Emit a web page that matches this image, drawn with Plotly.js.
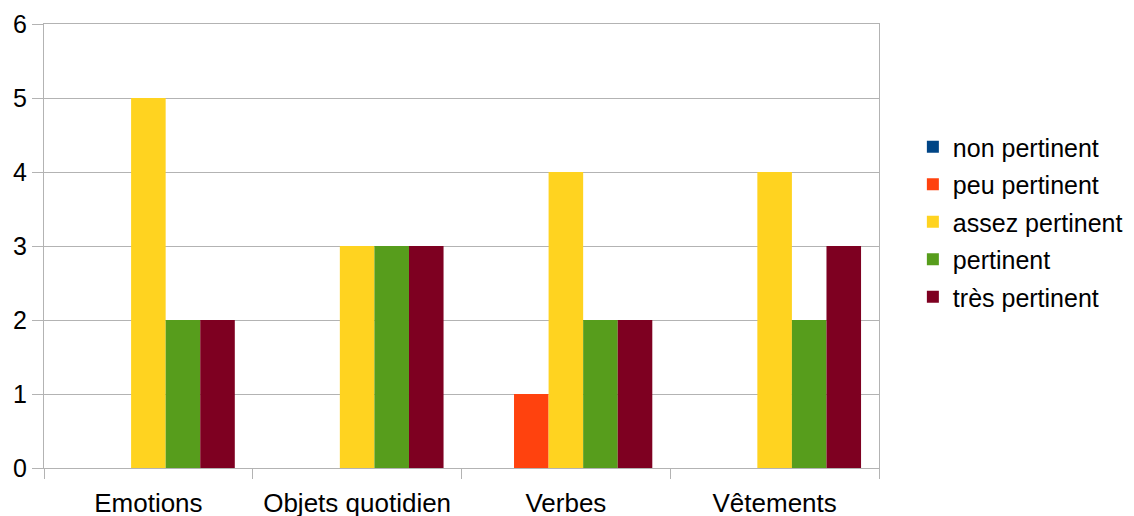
<!DOCTYPE html>
<html>
<head>
<meta charset="utf-8">
<script src="https://cdn.plot.ly/plotly-3.0.1.min.js"></script>
<style>html,body{margin:0;padding:0;background:#fff;}#chart{width:1134px;height:516px;}</style>
</head>
<body>
<div id="chart"></div>
<script>
const categories = ["Emotions", "Objets quotidien", "Verbes", "Vêtements"];
const seriesNames = ["non pertinent", "peu pertinent", "assez pertinent", "pertinent", "très pertinent"];
const nonPertinent = [0, 0, 0, 0];
const peuPertinent = [0, 0, 1, 0];
const assezPertinent = [5, 3, 4, 4];
const pertinent = [2, 3, 2, 2];
const tresPertinent = [2, 3, 2, 3];
const yTicks = [0, 1, 2, 3, 4, 5, 6];
const colors = ["#004586", "#ff420e", "#ffd320", "#579d1c", "#7e0021"];

const values = [nonPertinent, peuPertinent, assezPertinent, pertinent, tresPertinent];
const traces = values.map((v, i) => ({
  type: "bar",
  name: seriesNames[i],
  x: categories,
  y: v,
  marker: {color: colors[i], line: {width: 0}},
  legendgroup: "g" + i,
  hoverinfo: "x+y+name"
}));

const font = "Liberation Sans, Arial, sans-serif";
const layout = {
  width: 1134, height: 516,
  margin: {l: 44, r: 255, t: 24, b: 48, pad: 0, autoexpand: false},
  paper_bgcolor: "#ffffff", plot_bgcolor: "#ffffff",
  barmode: "group", bargap: 0.172, bargroupgap: 0,
  font: {family: font, color: "#000000"},
  xaxis: {
    type: "category", range: [-0.5, 3.5],
    tickson: "boundaries", ticks: "outside", ticklen: 10, tickcolor: "#b3b3b3", tickwidth: 1,
    showgrid: false, showline: true, linecolor: "#b3b3b3", linewidth: 1, mirror: true,
    tickfont: {size: 26, family: font, color: "#000"}, zeroline: false,
    ticklabelstandoff: 12
  },
  yaxis: {
    range: [0, 6], tickvals: yTicks, ticktext: yTicks.map(String),
    ticks: "outside", ticklen: 11, tickcolor: "#b3b3b3", tickwidth: 1,
    showgrid: true, gridcolor: "#b3b3b3", gridwidth: 1,
    showline: true, linecolor: "#b3b3b3", linewidth: 1, mirror: true, zeroline: false,
    tickfont: {size: 25, family: font, color: "#000"}
  },
  showlegend: true,
  legend: {
    xref: "container", x: 0.805, xanchor: "left", y: 0.554, yanchor: "middle",
    font: {size: 25, family: font, color: "#000"},
    tracegroupgap: 2, traceorder: "grouped",
    bgcolor: "rgba(0,0,0,0)", borderwidth: 0
  }
};

Plotly.newPlot("chart", traces, layout, {displayModeBar: false, staticPlot: true});
</script>
</body>
</html>
